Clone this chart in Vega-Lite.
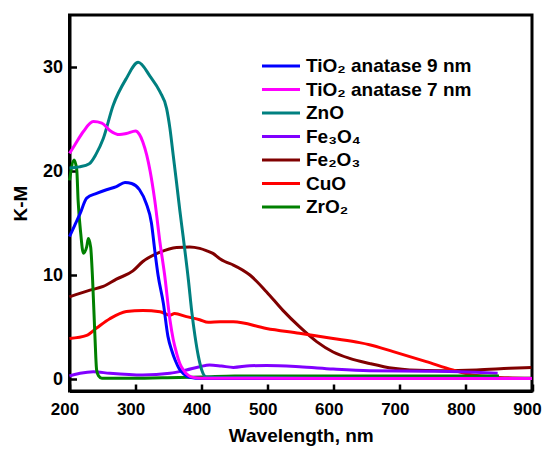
{
  "$schema": "https://vega.github.io/schema/vega-lite/v6.json",
  "width": 462.5,
  "height": 376,
  "autosize": {"type": "none"},
  "padding": {"left": 69.5, "top": 15, "right": 13, "bottom": 59},
  "background": "white",
  "config": {
    "font": "Liberation Sans",
    "view": {"stroke": "black", "strokeWidth": 3},
    "axis": {
      "domainColor": "black",
      "domainWidth": 3,
      "tickColor": "black",
      "tickWidth": 2.5,
      "tickSize": -7,
      "labelFont": "Liberation Sans",
      "labelFontSize": 18,
      "labelFontWeight": "bold",
      "labelColor": "black",
      "labelFlush": false,
      "titleFont": "Liberation Sans",
      "titleFontSize": 19,
      "titleFontWeight": "bold",
      "titleColor": "black",
      "grid": false
    }
  },
  "data": {
    "values": [
      {"material": "Fe₂O₃", "wavelength": 200, "km": 7.9},
      {"material": "Fe₂O₃", "wavelength": 231, "km": 8.55},
      {"material": "Fe₂O₃", "wavelength": 251, "km": 8.9},
      {"material": "Fe₂O₃", "wavelength": 271, "km": 9.6},
      {"material": "Fe₂O₃", "wavelength": 296, "km": 10.4},
      {"material": "Fe₂O₃", "wavelength": 311, "km": 11.3},
      {"material": "Fe₂O₃", "wavelength": 337, "km": 12.2},
      {"material": "Fe₂O₃", "wavelength": 362, "km": 12.65},
      {"material": "Fe₂O₃", "wavelength": 382, "km": 12.7},
      {"material": "Fe₂O₃", "wavelength": 397, "km": 12.56},
      {"material": "Fe₂O₃", "wavelength": 407, "km": 12.35},
      {"material": "Fe₂O₃", "wavelength": 417, "km": 12.08},
      {"material": "Fe₂O₃", "wavelength": 427, "km": 11.6},
      {"material": "Fe₂O₃", "wavelength": 435, "km": 11.3},
      {"material": "Fe₂O₃", "wavelength": 448, "km": 10.96},
      {"material": "Fe₂O₃", "wavelength": 473, "km": 10.0},
      {"material": "Fe₂O₃", "wavelength": 498, "km": 8.4},
      {"material": "Fe₂O₃", "wavelength": 523, "km": 6.6},
      {"material": "Fe₂O₃", "wavelength": 548, "km": 5.03},
      {"material": "Fe₂O₃", "wavelength": 574, "km": 3.6},
      {"material": "Fe₂O₃", "wavelength": 599, "km": 2.6},
      {"material": "Fe₂O₃", "wavelength": 624, "km": 1.99},
      {"material": "Fe₂O₃", "wavelength": 654, "km": 1.5},
      {"material": "Fe₂O₃", "wavelength": 690, "km": 1.03},
      {"material": "Fe₂O₃", "wavelength": 715, "km": 0.87},
      {"material": "Fe₂O₃", "wavelength": 765, "km": 0.8},
      {"material": "Fe₂O₃", "wavelength": 816, "km": 0.87},
      {"material": "Fe₂O₃", "wavelength": 866, "km": 1.03},
      {"material": "Fe₂O₃", "wavelength": 899, "km": 1.12},

      {"material": "CuO", "wavelength": 200, "km": 3.9},
      {"material": "CuO", "wavelength": 226, "km": 4.2},
      {"material": "CuO", "wavelength": 241, "km": 4.9},
      {"material": "CuO", "wavelength": 261, "km": 5.8},
      {"material": "CuO", "wavelength": 286, "km": 6.5},
      {"material": "CuO", "wavelength": 311, "km": 6.6},
      {"material": "CuO", "wavelength": 337, "km": 6.47},
      {"material": "CuO", "wavelength": 352, "km": 6.15},
      {"material": "CuO", "wavelength": 359, "km": 6.3},
      {"material": "CuO", "wavelength": 377, "km": 6.0},
      {"material": "CuO", "wavelength": 397, "km": 5.7},
      {"material": "CuO", "wavelength": 410, "km": 5.45},
      {"material": "CuO", "wavelength": 428, "km": 5.5},
      {"material": "CuO", "wavelength": 448, "km": 5.5},
      {"material": "CuO", "wavelength": 498, "km": 4.86},
      {"material": "CuO", "wavelength": 548, "km": 4.4},
      {"material": "CuO", "wavelength": 599, "km": 3.9},
      {"material": "CuO", "wavelength": 639, "km": 3.5},
      {"material": "CuO", "wavelength": 654, "km": 3.3},
      {"material": "CuO", "wavelength": 690, "km": 2.63},
      {"material": "CuO", "wavelength": 740, "km": 1.67},
      {"material": "CuO", "wavelength": 780, "km": 0.87},
      {"material": "CuO", "wavelength": 810, "km": 0.38},
      {"material": "CuO", "wavelength": 851, "km": 0.16},
      {"material": "CuO", "wavelength": 899, "km": 0.07},

      {"material": "Fe₃O₄", "wavelength": 200, "km": 0.29},
      {"material": "Fe₃O₄", "wavelength": 216, "km": 0.55},
      {"material": "Fe₃O₄", "wavelength": 236, "km": 0.7},
      {"material": "Fe₃O₄", "wavelength": 261, "km": 0.55},
      {"material": "Fe₃O₄", "wavelength": 311, "km": 0.38},
      {"material": "Fe₃O₄", "wavelength": 352, "km": 0.55},
      {"material": "Fe₃O₄", "wavelength": 377, "km": 0.87},
      {"material": "Fe₃O₄", "wavelength": 397, "km": 1.18},
      {"material": "Fe₃O₄", "wavelength": 412, "km": 1.35},
      {"material": "Fe₃O₄", "wavelength": 430, "km": 1.25},
      {"material": "Fe₃O₄", "wavelength": 448, "km": 1.12},
      {"material": "Fe₃O₄", "wavelength": 473, "km": 1.28},
      {"material": "Fe₃O₄", "wavelength": 498, "km": 1.3},
      {"material": "Fe₃O₄", "wavelength": 548, "km": 1.18},
      {"material": "Fe₃O₄", "wavelength": 599, "km": 0.96},
      {"material": "Fe₃O₄", "wavelength": 654, "km": 0.8},
      {"material": "Fe₃O₄", "wavelength": 740, "km": 0.75},
      {"material": "Fe₃O₄", "wavelength": 790, "km": 0.7},
      {"material": "Fe₃O₄", "wavelength": 848, "km": 0.55},

      {"material": "ZrO₂", "wavelength": 200, "km": 19.1},
      {"material": "ZrO₂", "wavelength": 207, "km": 21.05},
      {"material": "ZrO₂", "wavelength": 211, "km": 20.1},
      {"material": "ZrO₂", "wavelength": 213, "km": 17.2},
      {"material": "ZrO₂", "wavelength": 217, "km": 14.0},
      {"material": "ZrO₂", "wavelength": 221, "km": 12.1},
      {"material": "ZrO₂", "wavelength": 226, "km": 12.7},
      {"material": "ZrO₂", "wavelength": 228.5, "km": 13.5},
      {"material": "ZrO₂", "wavelength": 232, "km": 12.7},
      {"material": "ZrO₂", "wavelength": 235, "km": 9.5},
      {"material": "ZrO₂", "wavelength": 238.5, "km": 4.1},
      {"material": "ZrO₂", "wavelength": 241, "km": 0.9},
      {"material": "ZrO₂", "wavelength": 244, "km": 0.3},
      {"material": "ZrO₂", "wavelength": 249, "km": 0.07},
      {"material": "ZrO₂", "wavelength": 286, "km": 0.07},
      {"material": "ZrO₂", "wavelength": 340, "km": 0.12},
      {"material": "ZrO₂", "wavelength": 402, "km": 0.2},
      {"material": "ZrO₂", "wavelength": 450, "km": 0.3},
      {"material": "ZrO₂", "wavelength": 600, "km": 0.3},
      {"material": "ZrO₂", "wavelength": 850, "km": 0.3},

      {"material": "ZnO", "wavelength": 200, "km": 20.3},
      {"material": "ZnO", "wavelength": 215, "km": 20.4},
      {"material": "ZnO", "wavelength": 230, "km": 20.7},
      {"material": "ZnO", "wavelength": 240, "km": 21.6},
      {"material": "ZnO", "wavelength": 251, "km": 23.1},
      {"material": "ZnO", "wavelength": 266, "km": 26.3},
      {"material": "ZnO", "wavelength": 286, "km": 28.9},
      {"material": "ZnO", "wavelength": 304, "km": 30.45},
      {"material": "ZnO", "wavelength": 322, "km": 29.1},
      {"material": "ZnO", "wavelength": 337, "km": 27.6},
      {"material": "ZnO", "wavelength": 347, "km": 26.0},
      {"material": "ZnO", "wavelength": 352, "km": 24.1},
      {"material": "ZnO", "wavelength": 357, "km": 21.5},
      {"material": "ZnO", "wavelength": 362, "km": 18.9},
      {"material": "ZnO", "wavelength": 367, "km": 16.2},
      {"material": "ZnO", "wavelength": 372, "km": 13.7},
      {"material": "ZnO", "wavelength": 380, "km": 9.5},
      {"material": "ZnO", "wavelength": 385, "km": 6.5},
      {"material": "ZnO", "wavelength": 390, "km": 4.1},
      {"material": "ZnO", "wavelength": 395, "km": 2.2},
      {"material": "ZnO", "wavelength": 400, "km": 0.9},
      {"material": "ZnO", "wavelength": 407, "km": 0.2},
      {"material": "ZnO", "wavelength": 450, "km": 0.15},
      {"material": "ZnO", "wavelength": 600, "km": 0.1},
      {"material": "ZnO", "wavelength": 900, "km": 0.08},

      {"material": "TiO₂ anatase 9 nm", "wavelength": 200, "km": 13.7},
      {"material": "TiO₂ anatase 9 nm", "wavelength": 208, "km": 14.8},
      {"material": "TiO₂ anatase 9 nm", "wavelength": 216, "km": 15.9},
      {"material": "TiO₂ anatase 9 nm", "wavelength": 226, "km": 17.4},
      {"material": "TiO₂ anatase 9 nm", "wavelength": 241, "km": 17.85},
      {"material": "TiO₂ anatase 9 nm", "wavelength": 256, "km": 18.2},
      {"material": "TiO₂ anatase 9 nm", "wavelength": 271, "km": 18.5},
      {"material": "TiO₂ anatase 9 nm", "wavelength": 284, "km": 18.9},
      {"material": "TiO₂ anatase 9 nm", "wavelength": 294, "km": 18.8},
      {"material": "TiO₂ anatase 9 nm", "wavelength": 306, "km": 18.2},
      {"material": "TiO₂ anatase 9 nm", "wavelength": 316, "km": 16.9},
      {"material": "TiO₂ anatase 9 nm", "wavelength": 324, "km": 15.0},
      {"material": "TiO₂ anatase 9 nm", "wavelength": 329, "km": 12.4},
      {"material": "TiO₂ anatase 9 nm", "wavelength": 334, "km": 10.0},
      {"material": "TiO₂ anatase 9 nm", "wavelength": 342, "km": 7.3},
      {"material": "TiO₂ anatase 9 nm", "wavelength": 349, "km": 4.1},
      {"material": "TiO₂ anatase 9 nm", "wavelength": 355, "km": 2.7},
      {"material": "TiO₂ anatase 9 nm", "wavelength": 360, "km": 1.8},
      {"material": "TiO₂ anatase 9 nm", "wavelength": 366, "km": 1.0},
      {"material": "TiO₂ anatase 9 nm", "wavelength": 372, "km": 0.55},
      {"material": "TiO₂ anatase 9 nm", "wavelength": 382, "km": 0.16},
      {"material": "TiO₂ anatase 9 nm", "wavelength": 400, "km": 0.05},
      {"material": "TiO₂ anatase 9 nm", "wavelength": 600, "km": 0.05},
      {"material": "TiO₂ anatase 9 nm", "wavelength": 900, "km": 0.05},

      {"material": "TiO₂ anatase 7 nm", "wavelength": 200, "km": 21.7},
      {"material": "TiO₂ anatase 7 nm", "wavelength": 208, "km": 22.5},
      {"material": "TiO₂ anatase 7 nm", "wavelength": 221, "km": 23.8},
      {"material": "TiO₂ anatase 7 nm", "wavelength": 236, "km": 24.75},
      {"material": "TiO₂ anatase 7 nm", "wavelength": 249, "km": 24.6},
      {"material": "TiO₂ anatase 7 nm", "wavelength": 261, "km": 23.9},
      {"material": "TiO₂ anatase 7 nm", "wavelength": 276, "km": 23.5},
      {"material": "TiO₂ anatase 7 nm", "wavelength": 286, "km": 23.6},
      {"material": "TiO₂ anatase 7 nm", "wavelength": 300, "km": 23.85},
      {"material": "TiO₂ anatase 7 nm", "wavelength": 306, "km": 23.5},
      {"material": "TiO₂ anatase 7 nm", "wavelength": 311, "km": 22.8},
      {"material": "TiO₂ anatase 7 nm", "wavelength": 317, "km": 21.5},
      {"material": "TiO₂ anatase 7 nm", "wavelength": 322, "km": 20.0},
      {"material": "TiO₂ anatase 7 nm", "wavelength": 329, "km": 17.2},
      {"material": "TiO₂ anatase 7 nm", "wavelength": 337, "km": 13.1},
      {"material": "TiO₂ anatase 7 nm", "wavelength": 344, "km": 10.0},
      {"material": "TiO₂ anatase 7 nm", "wavelength": 352, "km": 5.7},
      {"material": "TiO₂ anatase 7 nm", "wavelength": 357, "km": 3.8},
      {"material": "TiO₂ anatase 7 nm", "wavelength": 362, "km": 2.5},
      {"material": "TiO₂ anatase 7 nm", "wavelength": 367, "km": 1.5},
      {"material": "TiO₂ anatase 7 nm", "wavelength": 372, "km": 0.9},
      {"material": "TiO₂ anatase 7 nm", "wavelength": 380, "km": 0.35},
      {"material": "TiO₂ anatase 7 nm", "wavelength": 387, "km": 0.16},
      {"material": "TiO₂ anatase 7 nm", "wavelength": 400, "km": 0.08},
      {"material": "TiO₂ anatase 7 nm", "wavelength": 600, "km": 0.05},
      {"material": "TiO₂ anatase 7 nm", "wavelength": 900, "km": 0.05}
    ]
  },
  "mark": {"type": "line", "strokeWidth": 3, "interpolate": "monotone"},
  "encoding": {
    "x": {
      "field": "wavelength",
      "type": "quantitative",
      "scale": {"domain": [200, 900], "nice": false, "zero": false},
      "axis": {
        "values": [200, 300, 400, 500, 600, 700, 800, 900],
        "title": "Wavelength, nm",
        "labelPadding": 17,
        "labelOffset": -5,
        "labelFontSize": 17,
        "titlePadding": 9
      }
    },
    "y": {
      "field": "km",
      "type": "quantitative",
      "scale": {"domain": [-1.15, 35], "nice": false, "zero": false},
      "axis": {
        "values": [0, 10, 20, 30],
        "title": "K-M",
        "labelPadding": 14,
        "titlePadding": 12
      }
    },
    "color": {
      "field": "material",
      "type": "nominal",
      "scale": {
        "domain": ["TiO₂ anatase 9 nm", "TiO₂ anatase 7 nm", "ZnO", "Fe₃O₄", "Fe₂O₃", "CuO", "ZrO₂"],
        "range": ["#0000ff", "#ff00ff", "#008080", "#8000ff", "#800000", "#ff0000", "#008000"]
      },
      "legend": {
        "orient": "none",
        "legendX": 200.5,
        "legendY": 40,
        "title": null,
        "padding": 0,
        "symbolType": "M-2,0L2,0",
        "symbolSize": 361,
        "symbolStrokeWidth": 3,
        "labelFont": "Liberation Sans",
        "labelFontSize": 19,
        "labelFontWeight": "bold",
        "labelColor": "black",
        "labelOffset": 14,
        "labelLimit": 300,
        "rowPadding": 2.5
      }
    }
  }
}
